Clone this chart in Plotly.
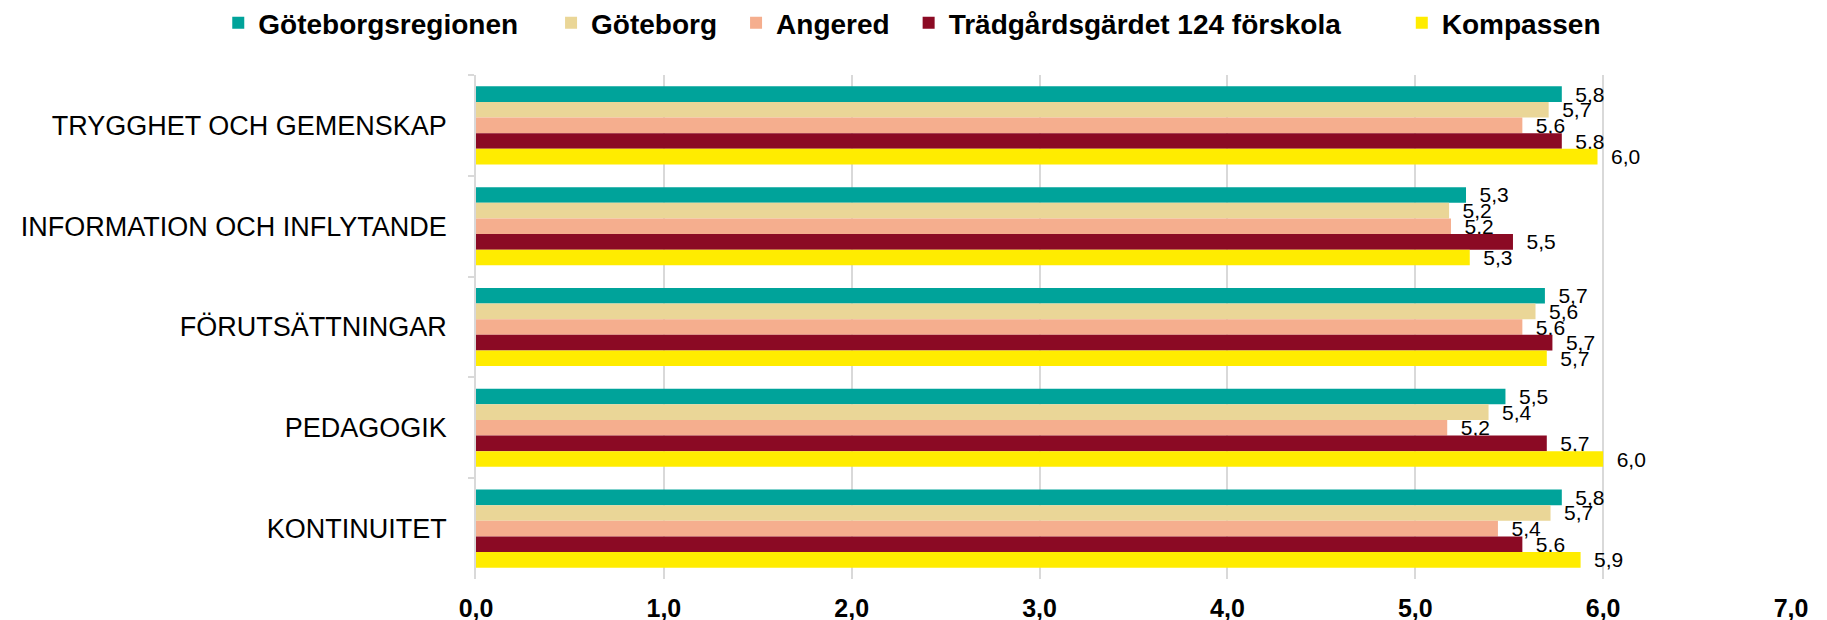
import plotly.graph_objects as go

categories = ["TRYGGHET OCH GEMENSKAP", "INFORMATION OCH INFLYTANDE", "FÖRUTSÄTTNINGAR", "PEDAGOGIK", "KONTINUITET"]
series_names = ["Göteborgsregionen", "Göteborg", "Angered", "Trädgårdsgärdet 124 förskola", "Kompassen"]
goteborgsregionen = [5.78, 5.27, 5.69, 5.48, 5.78]
goteborg = [5.71, 5.18, 5.64, 5.39, 5.72]
angered = [5.57, 5.19, 5.57, 5.17, 5.44]
tradgardsgardet = [5.78, 5.52, 5.73, 5.70, 5.57]
kompassen = [5.97, 5.29, 5.70, 6.00, 5.88]
tick_values = [0, 1, 2, 3, 4, 5, 6, 7]
tick_labels = ["0,0", "1,0", "2,0", "3,0", "4,0", "5,0", "6,0", "7,0"]

colors = ["#00A39A", "#EAD697", "#F5AE8E", "#8B0A24", "#FFEC00"]
legend_pads = ["\u2003", "\u2002", "\u2002", "\u2003\u2003", ""]
all_values = [goteborgsregionen, goteborg, angered, tradgardsgardet, kompassen]

fig = go.Figure()
for name, pad, vals, col in zip(series_names, legend_pads, all_values, colors):
    fig.add_trace(go.Bar(
        y=categories, x=vals, name=name + pad, orientation="h",
        marker=dict(color=col, line=dict(width=0)),
        text=["\u2002" + f"{v:.1f}".replace(".", ",") for v in vals],
        textposition="outside", constraintext="none", cliponaxis=False,
        textfont=dict(family="Liberation Sans, Arial, sans-serif", size=21, color="#000000"),
    ))

fig.update_layout(
    width=1819, height=612,
    barmode="group", bargap=0.225, bargroupgap=0,
    plot_bgcolor="white", paper_bgcolor="white",
    margin=dict(l=468, r=36, t=67, b=41, autoexpand=False),
    uniformtext=dict(minsize=21, mode="show"),
    showlegend=True,
    legend=dict(orientation="h", xref="paper", yref="paper",
                x=-0.196, xanchor="left", y=1.103, yanchor="middle",
                bgcolor="rgba(0,0,0,0)",
                font=dict(family="Liberation Sans, Arial, sans-serif", size=28, color="#000000", weight="bold"),
                itemwidth=30, traceorder="normal"),
    xaxis=dict(range=[0, 7], tickvals=tick_values, ticktext=tick_labels,
               showgrid=True, gridcolor="#D9D9D9", gridwidth=1.5, zeroline=False,
               showline=False, ticks="outside", ticklen=7, tickcolor="rgba(0,0,0,0)",
               tickfont=dict(family="Liberation Sans, Arial, sans-serif", size=25, color="#000000", weight="bold")),
    yaxis=dict(autorange="reversed", showline=True, linecolor="#D9D9D9", linewidth=1.5,
               ticks="outside", tickson="boundaries", ticklen=6, tickcolor="#D9D9D9", tickwidth=1.5,
               ticklabelstandoff=22,
               tickfont=dict(family="Liberation Sans, Arial, sans-serif", size=27, color="#000000")),
)

fig.write_html("out.html")
